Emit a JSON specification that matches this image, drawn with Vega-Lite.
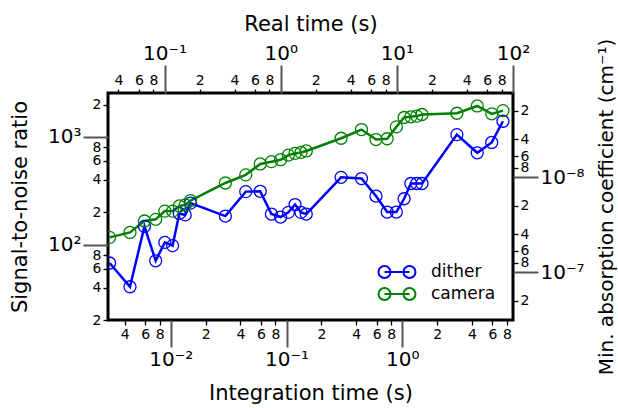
{
  "$schema": "https://vega.github.io/schema/vega-lite/v6.json",
  "width": 405,
  "height": 227,
  "autosize": "none",
  "padding": {"left": 108, "top": 93, "right": 105, "bottom": 88},
  "background": "white",
  "config": {
    "font": "DejaVu Sans",
    "view": {"stroke": "#000000", "strokeWidth": 3},
    "axis": {
      "domain": false,
      "grid": false,
      "labelFont": "DejaVu Sans",
      "titleFont": "DejaVu Sans",
      "labelColor": "#000000",
      "titleColor": "#000000",
      "titleFontWeight": "normal",
      "titleFontSize": 21,
      "labelOverlap": false,
      "labelFlush": false,
      "labelPadding": 2
    },
    "legend": {"labelFont": "DejaVu Sans"}
  },
  "layer": [
    {
      "data": {
        "values": [
          {"t": 0.00296, "snr": 67.6, "series": "dither"},
          {"t": 0.00444, "snr": 40.7, "series": "dither"},
          {"t": 0.00592, "snr": 148, "series": "dither"},
          {"t": 0.0074, "snr": 70.9, "series": "dither"},
          {"t": 0.00888, "snr": 105, "series": "dither"},
          {"t": 0.01036, "snr": 98, "series": "dither"},
          {"t": 0.01184, "snr": 195, "series": "dither"},
          {"t": 0.01332, "snr": 189, "series": "dither"},
          {"t": 0.0148, "snr": 243, "series": "dither"},
          {"t": 0.0296, "snr": 184.5, "series": "dither"},
          {"t": 0.0444, "snr": 311, "series": "dither"},
          {"t": 0.0592, "snr": 313, "series": "dither"},
          {"t": 0.074, "snr": 192.5, "series": "dither"},
          {"t": 0.0888, "snr": 180.6, "series": "dither"},
          {"t": 0.1036, "snr": 199.5, "series": "dither"},
          {"t": 0.1184, "snr": 236, "series": "dither"},
          {"t": 0.1332, "snr": 199.5, "series": "dither"},
          {"t": 0.148, "snr": 192.5, "series": "dither"},
          {"t": 0.296, "snr": 422, "series": "dither"},
          {"t": 0.444, "snr": 411, "series": "dither"},
          {"t": 0.592, "snr": 283, "series": "dither"},
          {"t": 0.74, "snr": 201, "series": "dither"},
          {"t": 0.888, "snr": 201, "series": "dither"},
          {"t": 1.036, "snr": 267, "series": "dither"},
          {"t": 1.184, "snr": 370, "series": "dither"},
          {"t": 1.332, "snr": 370, "series": "dither"},
          {"t": 1.48, "snr": 370, "series": "dither"},
          {"t": 2.96, "snr": 1052, "series": "dither"},
          {"t": 4.44, "snr": 713, "series": "dither"},
          {"t": 5.92, "snr": 890, "series": "dither"},
          {"t": 7.4, "snr": 1399, "series": "dither"},
          {"t": 0.00296, "snr": 117, "series": "camera"},
          {"t": 0.00444, "snr": 130, "series": "camera"},
          {"t": 0.00592, "snr": 166, "series": "camera"},
          {"t": 0.0074, "snr": 172, "series": "camera"},
          {"t": 0.00888, "snr": 205, "series": "camera"},
          {"t": 0.01036, "snr": 205, "series": "camera"},
          {"t": 0.01184, "snr": 229, "series": "camera"},
          {"t": 0.01332, "snr": 234, "series": "camera"},
          {"t": 0.0148, "snr": 257, "series": "camera"},
          {"t": 0.0296, "snr": 374, "series": "camera"},
          {"t": 0.0444, "snr": 445, "series": "camera"},
          {"t": 0.0592, "snr": 562, "series": "camera"},
          {"t": 0.074, "snr": 590, "series": "camera"},
          {"t": 0.0888, "snr": 615, "series": "camera"},
          {"t": 0.1036, "snr": 679, "series": "camera"},
          {"t": 0.1184, "snr": 704, "series": "camera"},
          {"t": 0.1332, "snr": 719, "series": "camera"},
          {"t": 0.148, "snr": 742, "series": "camera"},
          {"t": 0.296, "snr": 973, "series": "camera"},
          {"t": 0.444, "snr": 1172, "series": "camera"},
          {"t": 0.592, "snr": 946, "series": "camera"},
          {"t": 0.74, "snr": 963, "series": "camera"},
          {"t": 0.888, "snr": 1241, "series": "camera"},
          {"t": 1.036, "snr": 1516, "series": "camera"},
          {"t": 1.184, "snr": 1539, "series": "camera"},
          {"t": 1.332, "snr": 1562, "series": "camera"},
          {"t": 1.48, "snr": 1616, "series": "camera"},
          {"t": 2.96, "snr": 1661, "series": "camera"},
          {"t": 4.44, "snr": 1941, "series": "camera"},
          {"t": 5.92, "snr": 1640, "series": "camera"},
          {"t": 7.4, "snr": 1758, "series": "camera"}
        ]
      },
      "mark": {
        "type": "line",
        "strokeWidth": 2.5,
        "clip": true,
        "point": {"filled": false, "shape": "circle", "size": 144, "strokeWidth": 1.3}
      },
      "encoding": {
        "x": {
          "field": "t",
          "type": "quantitative",
          "scale": {"type": "log", "domain": [0.002867, 9.04], "nice": false},
          "axis": {
            "orient": "bottom",
            "title": "Integration time (s)",
            "titlePadding": 13,
            "values": [0.004, 0.006, 0.008, 0.01, 0.02, 0.04, 0.06, 0.08, 0.1, 0.2, 0.4, 0.6, 0.8, 1, 2, 4, 6, 8],
            "labelExpr": "abs(log(datum.value)/LN10-round(log(datum.value)/LN10))<0.01 ? '10' + (round(log(datum.value)/LN10) < 0 ? '⁻' : '') + ['⁰','¹','²','³','⁴','⁵','⁶','⁷','⁸','⁹'][abs(round(log(datum.value)/LN10))] : '' + round(datum.value / pow(10, floor(log(datum.value)/LN10 + 0.001)))",
            "tickSize": {"condition": {"test": "abs(log(datum.value)/LN10-round(log(datum.value)/LN10))<0.01", "value": 27}, "value": 5},
            "tickColor": {"condition": {"test": "abs(log(datum.value)/LN10-round(log(datum.value)/LN10))<0.01", "value": "#555555"}, "value": "#000000"},
            "tickWidth": {"condition": {"test": "abs(log(datum.value)/LN10-round(log(datum.value)/LN10))<0.01", "value": 2}, "value": 1.3},
            "labelFontSize": {"condition": {"test": "abs(log(datum.value)/LN10-round(log(datum.value)/LN10))<0.01", "value": 20}, "value": 14}
          }
        },
        "y": {
          "field": "snr",
          "type": "quantitative",
          "scale": {"type": "log", "domain": [20, 2560], "nice": false},
          "axis": {
            "orient": "left",
            "title": "Signal-to-noise ratio",
            "titlePadding": 17,
            "values": [20, 40, 60, 80, 100, 200, 400, 600, 800, 1000, 2000],
            "labelExpr": "abs(log(datum.value)/LN10-round(log(datum.value)/LN10))<0.01 ? '10' + (round(log(datum.value)/LN10) < 0 ? '⁻' : '') + ['⁰','¹','²','³','⁴','⁵','⁶','⁷','⁸','⁹'][abs(round(log(datum.value)/LN10))] : '' + round(datum.value / pow(10, floor(log(datum.value)/LN10 + 0.001)))",
            "tickSize": {"condition": {"test": "abs(log(datum.value)/LN10-round(log(datum.value)/LN10))<0.01", "value": 25}, "value": 5},
            "tickColor": {"condition": {"test": "abs(log(datum.value)/LN10-round(log(datum.value)/LN10))<0.01", "value": "#555555"}, "value": "#000000"},
            "tickWidth": {"condition": {"test": "abs(log(datum.value)/LN10-round(log(datum.value)/LN10))<0.01", "value": 2}, "value": 1.3},
            "labelFontSize": {"condition": {"test": "abs(log(datum.value)/LN10-round(log(datum.value)/LN10))<0.01", "value": 20}, "value": 14}
          }
        },
        "color": {
          "field": "series",
          "type": "nominal",
          "scale": {"domain": ["dither", "camera"], "range": ["#0000ff", "#008000"]},
          "legend": {
            "title": null,
            "orient": "none",
            "legendX": 277,
            "legendY": 167,
            "padding": 0,
            "rowPadding": 0,
            "labelFontSize": 17,
            "labelOffset": 22,
            "symbolType": "M-1.68,0A0.545,0.545,0,1,1,-0.59,0A0.545,0.545,0,1,1,-1.68,0M-1.135,0L1.135,0M0.59,0A0.545,0.545,0,1,1,1.68,0A0.545,0.545,0,1,1,0.59,0",
            "symbolSize": 484,
            "symbolStrokeWidth": 2,
            "symbolFillColor": "transparent"
          }
        }
      }
    },
    {
      "data": {"values": [{"rt": 1}]},
      "mark": {"type": "point", "opacity": 0},
      "encoding": {
        "x": {
          "field": "rt",
          "type": "quantitative",
          "scale": {"type": "log", "domain": [0.03254, 100], "nice": false},
          "axis": {
            "orient": "top",
            "title": "Real time (s)",
            "titlePadding": 9,
            "values": [0.04, 0.06, 0.08, 0.1, 0.2, 0.4, 0.6, 0.8, 1, 2, 4, 6, 8, 10, 20, 40, 60, 80, 100],
            "labelExpr": "abs(log(datum.value)/LN10-round(log(datum.value)/LN10))<0.01 ? '10' + (round(log(datum.value)/LN10) < 0 ? '⁻' : '') + ['⁰','¹','²','³','⁴','⁵','⁶','⁷','⁸','⁹'][abs(round(log(datum.value)/LN10))] : '' + round(datum.value / pow(10, floor(log(datum.value)/LN10 + 0.001)))",
            "tickSize": {"condition": {"test": "abs(log(datum.value)/LN10-round(log(datum.value)/LN10))<0.01", "value": 28}, "value": 4},
            "tickColor": {"condition": {"test": "abs(log(datum.value)/LN10-round(log(datum.value)/LN10))<0.01", "value": "#555555"}, "value": "#000000"},
            "tickWidth": {"condition": {"test": "abs(log(datum.value)/LN10-round(log(datum.value)/LN10))<0.01", "value": 2}, "value": 1.3},
            "labelFontSize": {"condition": {"test": "abs(log(datum.value)/LN10-round(log(datum.value)/LN10))<0.01", "value": 20}, "value": 14}
          }
        }
      }
    },
    {
      "data": {"values": [{"abs": 1e-8}]},
      "mark": {"type": "point", "opacity": 0},
      "encoding": {
        "y": {
          "field": "abs",
          "type": "quantitative",
          "scale": {"type": "log", "domain": [1.3e-9, 3.2e-7], "reverse": true, "nice": false},
          "axis": {
            "orient": "right",
            "title": "Min. absorption coefficient (cm⁻¹)",
            "titleAngle": -90,
            "titleBaseline": "top",
            "titleFontSize": 20,
            "titlePadding": 12,
            "values": [2e-9, 4e-9, 6e-9, 8e-9, 1e-8, 2e-8, 4e-8, 6e-8, 8e-8, 1e-7, 2e-7],
            "labelExpr": "abs(log(datum.value)/LN10-round(log(datum.value)/LN10))<0.01 ? '10' + (round(log(datum.value)/LN10) < 0 ? '⁻' : '') + ['⁰','¹','²','³','⁴','⁵','⁶','⁷','⁸','⁹'][abs(round(log(datum.value)/LN10))] : '' + round(datum.value / pow(10, floor(log(datum.value)/LN10 + 0.001)))",
            "tickSize": {"condition": {"test": "abs(log(datum.value)/LN10-round(log(datum.value)/LN10))<0.01", "value": 25}, "value": 5},
            "tickColor": {"condition": {"test": "abs(log(datum.value)/LN10-round(log(datum.value)/LN10))<0.01", "value": "#555555"}, "value": "#000000"},
            "tickWidth": {"condition": {"test": "abs(log(datum.value)/LN10-round(log(datum.value)/LN10))<0.01", "value": 2}, "value": 1.3},
            "labelFontSize": {"condition": {"test": "abs(log(datum.value)/LN10-round(log(datum.value)/LN10))<0.01", "value": 20}, "value": 14}
          }
        }
      }
    }
  ],
  "resolve": {"scale": {"x": "independent", "y": "independent"}}
}
